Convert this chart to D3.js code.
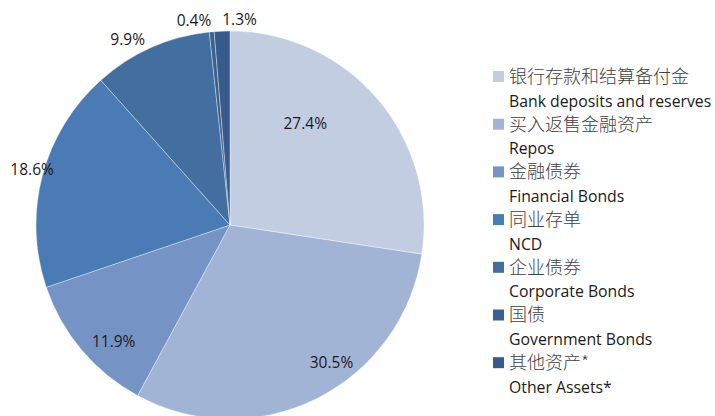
<!DOCTYPE html>
<html>
<head>
<meta charset="utf-8">
<script src="https://cdn.jsdelivr.net/npm/d3@7"></script>
<style>
  body { margin: 0; background: #fff; }
</style>
</head>
<body>
<div id="chart"></div>
<script>
// data
const namesZh = ["银行存款和结算备付金", "买入返售金融资产", "金融债券", "同业存单", "企业债券", "国债", "其他资产*"];
const namesEn = ["Bank deposits and reserves", "Repos", "Financial Bonds", "NCD", "Corporate Bonds", "Government Bonds", "Other Assets*"];
const shares = [27.4, 30.5, 11.9, 18.6, 9.9, 0.4, 1.3];
const colors = ["#c2cde2", "#a2b4d5", "#7594c5", "#4a7bb5", "#436ea0", "#3a6192", "#375b8b"];

// label placement (radius factor, angle nudge in degrees) - mimics excel best fit
const labelR = [0.65, 0.88, 0.85, 1.06, 1.09, 1.07, 1.06];
const labelNudge = [-12.7, -10, -5, 1, -5, -4.6, 5];

const width = 715, height = 416;
const cx = 230, cy = 225, radius = 194;
const latin = "'Open Sans', sans-serif";

let svg = d3.select("#chart").append("svg")
    .attr("width", width)
    .attr("height", height);

let g = svg.append("g").attr("transform", `translate(${cx},${cy})`);

let pie = d3.pie().sort(null).value(d => d);
let arcs = pie(shares);
let arc = d3.arc().innerRadius(0).outerRadius(radius);

g.selectAll("path.slice")
    .data(arcs)
    .enter()
    .append("path")
    .attr("class", "slice")
    .attr("d", arc)
    .attr("fill", (d, i) => colors[i])
    .attr("stroke", "#ffffff")
    .attr("stroke-opacity", 0.6)
    .attr("stroke-width", 0.6);

g.selectAll("text.lbl")
    .data(arcs)
    .enter()
    .append("text")
    .attr("class", "lbl")
    .attr("transform", (d, i) => {
        let a = (d.startAngle + d.endAngle) / 2 + labelNudge[i] * Math.PI / 180;
        let r = radius * labelR[i];
        return `translate(${r * Math.sin(a)},${-r * Math.cos(a)})`;
    })
    .attr("text-anchor", "middle")
    .attr("dy", "0.35em")
    .attr("font-family", latin)
    .attr("font-size", 15.5)
    .attr("fill", "#1a1a1a")
    .text(d => d.data.toFixed(1) + "%");

// legend
let legend = svg.append("g").attr("transform", "translate(493,71)");
const rowH = 47.7;

let rows = legend.selectAll("g.row")
    .data(namesZh)
    .enter()
    .append("g")
    .attr("class", "row")
    .attr("transform", (d, i) => `translate(0,${i * rowH})`);

rows.append("rect")
    .attr("width", 11)
    .attr("height", 11)
    .attr("fill", (d, i) => colors[i]);

rows.append("text")
    .attr("x", 16)
    .attr("y", 5.5)
    .attr("dy", "0.35em")
    .attr("font-family", "'Noto Sans CJK SC', sans-serif")
    .attr("font-size", 18)
    .attr("font-weight", 300)
    .attr("fill", "#404040")
    .text(d => d);

rows.append("text")
    .attr("x", 16)
    .attr("y", 30)
    .attr("dy", "0.35em")
    .attr("font-family", latin)
    .attr("font-size", 15.8)
    .attr("fill", "#1a1a1a")
    .text((d, i) => namesEn[i]);
</script>
</body>
</html>
